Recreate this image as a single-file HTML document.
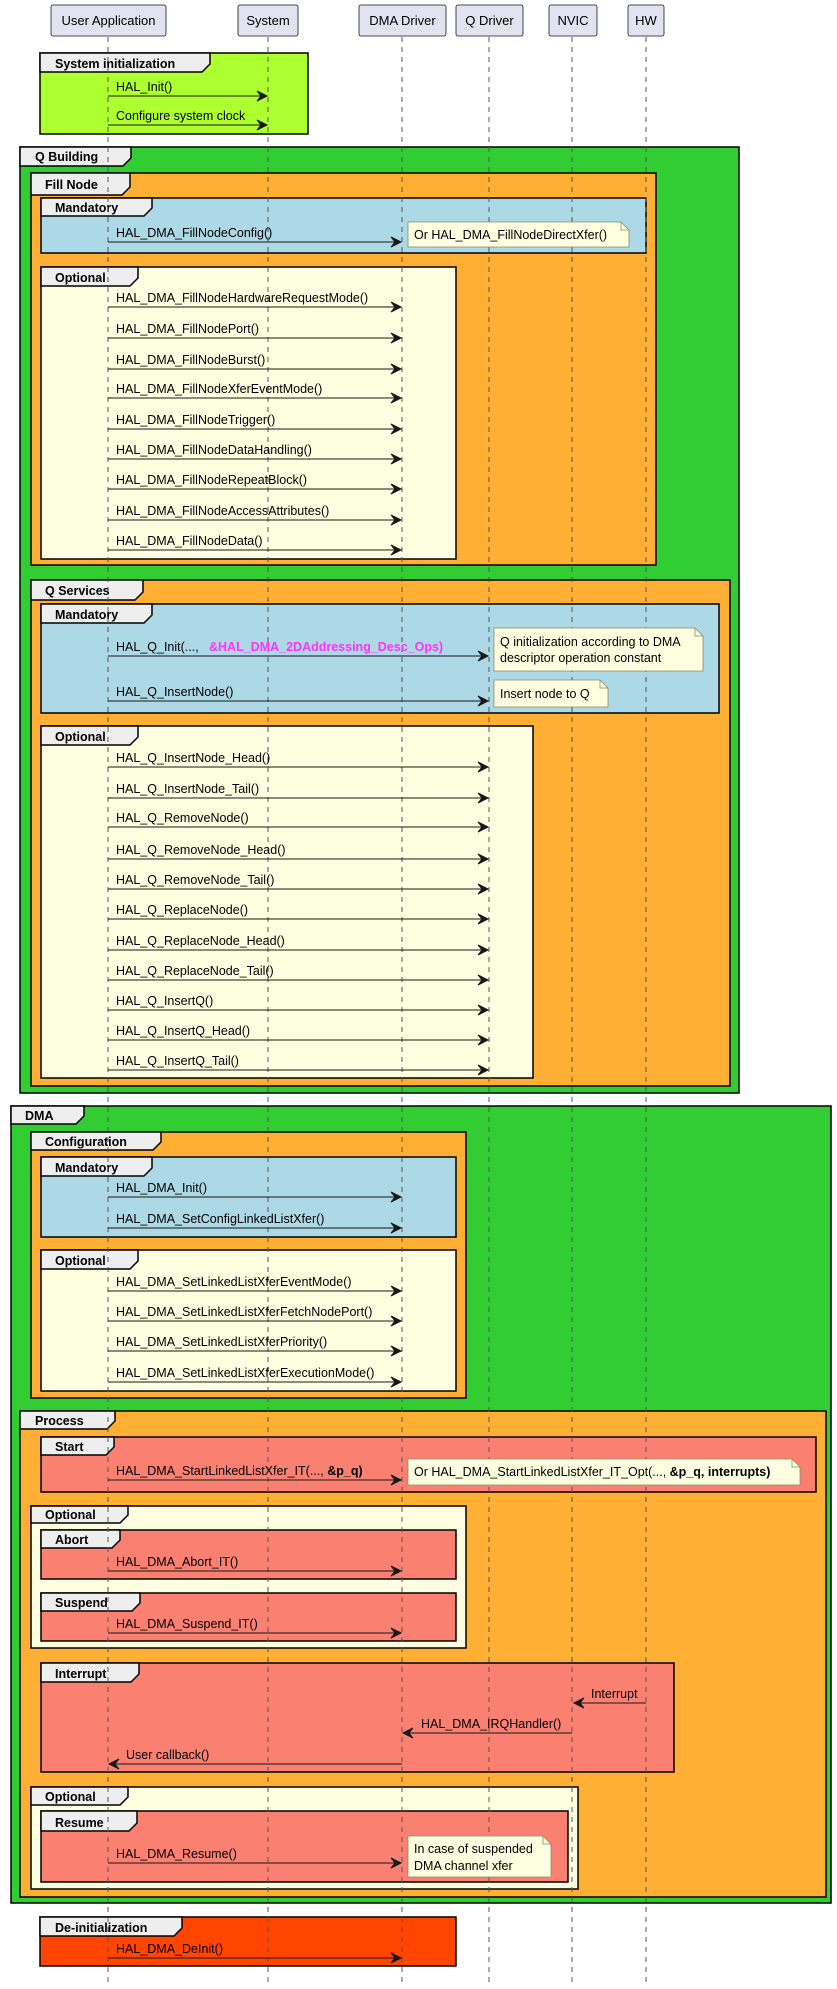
<!DOCTYPE html>
<html><head><meta charset="utf-8"><style>
html,body{margin:0;padding:0;background:#fff}
svg{display:block}
text{font-family:"Liberation Sans",Arial,sans-serif;font-size:12.5px;fill:#000}
.b{font-weight:bold}
</style></head><body>
<svg width="837" height="1989" viewBox="0 0 837 1989" xmlns="http://www.w3.org/2000/svg">
<g stroke="#000" stroke-width="1.5">
<rect x="40" y="53" width="268" height="81" fill="#ADFF2F"/>
<path d="M40 53H210V64L202 72H40Z" fill="#EEEEEE"/>
<rect x="20" y="147" width="719" height="946" fill="#32CD32"/>
<path d="M20 147H131V158L123 166H20Z" fill="#EEEEEE"/>
<rect x="31" y="173" width="625" height="392" fill="#FFAF33"/>
<path d="M31 173H130V187L122 195H31Z" fill="#EEEEEE"/>
<rect x="41" y="198" width="605" height="55" fill="#ADD8E6"/>
<path d="M41 198H152V208L144 216H41Z" fill="#EEEEEE"/>
<rect x="41" y="267" width="415" height="292" fill="#FEFEE0"/>
<path d="M41 267H138V278L130 286H41Z" fill="#EEEEEE"/>
<rect x="31" y="580" width="699" height="506" fill="#FFAF33"/>
<path d="M31 580H143V592L135 600H31Z" fill="#EEEEEE"/>
<rect x="41" y="604" width="678" height="109" fill="#ADD8E6"/>
<path d="M41 604H152V615L144 623H41Z" fill="#EEEEEE"/>
<rect x="41" y="726" width="492" height="352" fill="#FEFEE0"/>
<path d="M41 726H138V737L130 745H41Z" fill="#EEEEEE"/>
<rect x="11" y="1106" width="820" height="797" fill="#32CD32"/>
<path d="M11 1106H84V1116L76 1124H11Z" fill="#EEEEEE"/>
<rect x="31" y="1132" width="435" height="266" fill="#FFAF33"/>
<path d="M31 1132H161V1142L153 1150H31Z" fill="#EEEEEE"/>
<rect x="41" y="1157" width="415" height="80" fill="#ADD8E6"/>
<path d="M41 1157H152V1168L144 1176H41Z" fill="#EEEEEE"/>
<rect x="41" y="1250" width="415" height="141" fill="#FEFEE0"/>
<path d="M41 1250H138V1261L130 1269H41Z" fill="#EEEEEE"/>
<rect x="20" y="1411" width="806" height="486" fill="#FFAF33"/>
<path d="M20 1411H115V1421L107 1429H20Z" fill="#EEEEEE"/>
<rect x="41" y="1437" width="775" height="55" fill="#FA8072"/>
<path d="M41 1437H114V1447L106 1455H41Z" fill="#EEEEEE"/>
<rect x="31" y="1506" width="435" height="142" fill="#FEFEE0"/>
<path d="M31 1506H128V1515L120 1523H31Z" fill="#EEEEEE"/>
<rect x="41" y="1530" width="415" height="49" fill="#FA8072"/>
<path d="M41 1530H120V1540L112 1548H41Z" fill="#EEEEEE"/>
<rect x="41" y="1593" width="415" height="48" fill="#FA8072"/>
<path d="M41 1593H140V1603L132 1611H41Z" fill="#EEEEEE"/>
<rect x="41" y="1663" width="633" height="109" fill="#FA8072"/>
<path d="M41 1663H139V1674L131 1682H41Z" fill="#EEEEEE"/>
<rect x="31" y="1787" width="547" height="102" fill="#FEFEE0"/>
<path d="M31 1787H128V1797L120 1805H31Z" fill="#EEEEEE"/>
<rect x="41" y="1811" width="527" height="71" fill="#FA8072"/>
<path d="M41 1811H137V1823L129 1831H41Z" fill="#EEEEEE"/>
<rect x="40" y="1917" width="416" height="49" fill="#FF4500"/>
<path d="M40 1917H182V1928L174 1936H40Z" fill="#EEEEEE"/>
</g>
<g>
<text class="b" x="55" y="68">System initialization</text>
<text class="b" x="35" y="161">Q Building</text>
<text class="b" x="45" y="189">Fill Node</text>
<text class="b" x="55" y="212">Mandatory</text>
<text class="b" x="55" y="282">Optional</text>
<text class="b" x="45" y="595">Q Services</text>
<text class="b" x="55" y="619">Mandatory</text>
<text class="b" x="55" y="741">Optional</text>
<text class="b" x="25" y="1120">DMA</text>
<text class="b" x="45" y="1146">Configuration</text>
<text class="b" x="55" y="1172">Mandatory</text>
<text class="b" x="55" y="1265">Optional</text>
<text class="b" x="35" y="1425">Process</text>
<text class="b" x="55" y="1451">Start</text>
<text class="b" x="45" y="1519">Optional</text>
<text class="b" x="55" y="1544">Abort</text>
<text class="b" x="55" y="1607">Suspend</text>
<text class="b" x="55" y="1678">Interrupt</text>
<text class="b" x="45" y="1801">Optional</text>
<text class="b" x="55" y="1827">Resume</text>
<text class="b" x="55" y="1932">De-initialization</text>
</g>
<g stroke="#555" stroke-width="1" stroke-dasharray="5,5">
<line x1="108" y1="37" x2="108" y2="1984"/>
<line x1="268" y1="37" x2="268" y2="1984"/>
<line x1="402" y1="37" x2="402" y2="1984"/>
<line x1="489" y1="37" x2="489" y2="1984"/>
<line x1="572" y1="37" x2="572" y2="1984"/>
<line x1="646" y1="37" x2="646" y2="1984"/>
</g>
<g fill="#E2E2F0" stroke="#181818" stroke-width="0.8">
<rect x="51" y="5" width="115" height="31" rx="2"/>
<rect x="238" y="5" width="60" height="31" rx="2"/>
<rect x="359" y="5" width="87" height="31" rx="2"/>
<rect x="456" y="5" width="67" height="31" rx="2"/>
<rect x="549" y="5" width="48" height="31" rx="2"/>
<rect x="628" y="5" width="36" height="31" rx="2"/>
</g>
<g>
<text x="108.5" y="25" text-anchor="middle" style="font-size:13px">User Application</text>
<text x="268" y="25" text-anchor="middle" style="font-size:13px">System</text>
<text x="402.5" y="25" text-anchor="middle" style="font-size:13px">DMA Driver</text>
<text x="489.5" y="25" text-anchor="middle" style="font-size:13px">Q Driver</text>
<text x="573" y="25" text-anchor="middle" style="font-size:13px">NVIC</text>
<text x="646" y="25" text-anchor="middle" style="font-size:13px">HW</text>
</g>
<g stroke="#181818" stroke-width="1" fill="#181818">
<line x1="108" y1="96" x2="266" y2="96"/><path d="M267 96L257 91L261 96L257 101Z"/>
<line x1="108" y1="125" x2="266" y2="125"/><path d="M267 125L257 120L261 125L257 130Z"/>
</g>
<g stroke="#181818" stroke-width="1" fill="#181818">
<line x1="108" y1="242" x2="400" y2="242"/><path d="M401 242L391 237L395 242L391 247Z"/>
<line x1="108" y1="307" x2="400" y2="307"/><path d="M401 307L391 302L395 307L391 312Z"/>
<line x1="108" y1="338" x2="400" y2="338"/><path d="M401 338L391 333L395 338L391 343Z"/>
<line x1="108" y1="369" x2="400" y2="369"/><path d="M401 369L391 364L395 369L391 374Z"/>
<line x1="108" y1="398" x2="400" y2="398"/><path d="M401 398L391 393L395 398L391 403Z"/>
<line x1="108" y1="429" x2="400" y2="429"/><path d="M401 429L391 424L395 429L391 434Z"/>
<line x1="108" y1="459" x2="400" y2="459"/><path d="M401 459L391 454L395 459L391 464Z"/>
<line x1="108" y1="489" x2="400" y2="489"/><path d="M401 489L391 484L395 489L391 494Z"/>
<line x1="108" y1="520" x2="400" y2="520"/><path d="M401 520L391 515L395 520L391 525Z"/>
<line x1="108" y1="550" x2="400" y2="550"/><path d="M401 550L391 545L395 550L391 555Z"/>
<line x1="108" y1="1197" x2="400" y2="1197"/><path d="M401 1197L391 1192L395 1197L391 1202Z"/>
<line x1="108" y1="1228" x2="400" y2="1228"/><path d="M401 1228L391 1223L395 1228L391 1233Z"/>
<line x1="108" y1="1291" x2="400" y2="1291"/><path d="M401 1291L391 1286L395 1291L391 1296Z"/>
<line x1="108" y1="1321" x2="400" y2="1321"/><path d="M401 1321L391 1316L395 1321L391 1326Z"/>
<line x1="108" y1="1351" x2="400" y2="1351"/><path d="M401 1351L391 1346L395 1351L391 1356Z"/>
<line x1="108" y1="1382" x2="400" y2="1382"/><path d="M401 1382L391 1377L395 1382L391 1387Z"/>
<line x1="108" y1="1480" x2="400" y2="1480"/><path d="M401 1480L391 1475L395 1480L391 1485Z"/>
<line x1="108" y1="1571" x2="400" y2="1571"/><path d="M401 1571L391 1566L395 1571L391 1576Z"/>
<line x1="108" y1="1633" x2="400" y2="1633"/><path d="M401 1633L391 1628L395 1633L391 1638Z"/>
<line x1="108" y1="1863" x2="400" y2="1863"/><path d="M401 1863L391 1858L395 1863L391 1868Z"/>
<line x1="108" y1="1958" x2="400" y2="1958"/><path d="M401 1958L391 1953L395 1958L391 1963Z"/>
</g>
<g stroke="#181818" stroke-width="1" fill="#181818">
<line x1="108" y1="656" x2="487" y2="656"/><path d="M488 656L478 651L482 656L478 661Z"/>
<line x1="108" y1="701" x2="487" y2="701"/><path d="M488 701L478 696L482 701L478 706Z"/>
<line x1="108" y1="767" x2="487" y2="767"/><path d="M488 767L478 762L482 767L478 772Z"/>
<line x1="108" y1="798" x2="487" y2="798"/><path d="M488 798L478 793L482 798L478 803Z"/>
<line x1="108" y1="827" x2="487" y2="827"/><path d="M488 827L478 822L482 827L478 832Z"/>
<line x1="108" y1="859" x2="487" y2="859"/><path d="M488 859L478 854L482 859L478 864Z"/>
<line x1="108" y1="889" x2="487" y2="889"/><path d="M488 889L478 884L482 889L478 894Z"/>
<line x1="108" y1="919" x2="487" y2="919"/><path d="M488 919L478 914L482 919L478 924Z"/>
<line x1="108" y1="950" x2="487" y2="950"/><path d="M488 950L478 945L482 950L478 955Z"/>
<line x1="108" y1="980" x2="487" y2="980"/><path d="M488 980L478 975L482 980L478 985Z"/>
<line x1="108" y1="1010" x2="487" y2="1010"/><path d="M488 1010L478 1005L482 1010L478 1015Z"/>
<line x1="108" y1="1040" x2="487" y2="1040"/><path d="M488 1040L478 1035L482 1040L478 1045Z"/>
<line x1="108" y1="1070" x2="487" y2="1070"/><path d="M488 1070L478 1065L482 1070L478 1075Z"/>
</g>
<g stroke="#181818" stroke-width="1" fill="#181818">
<line x1="646" y1="1703" x2="575" y2="1703"/><path d="M574 1703L584 1698L580 1703L584 1708Z"/>
<line x1="572" y1="1733" x2="404" y2="1733"/><path d="M403 1733L413 1728L409 1733L413 1738Z"/>
<line x1="402" y1="1764" x2="110" y2="1764"/><path d="M109 1764L119 1759L115 1764L119 1769Z"/>
</g>
<text x="116" y="91">HAL_Init()</text>
<text x="116" y="120">Configure system clock</text>
<text x="116" y="237">HAL_DMA_FillNodeConfig()</text>
<text x="116" y="302">HAL_DMA_FillNodeHardwareRequestMode()</text>
<text x="116" y="333">HAL_DMA_FillNodePort()</text>
<text x="116" y="364">HAL_DMA_FillNodeBurst()</text>
<text x="116" y="393">HAL_DMA_FillNodeXferEventMode()</text>
<text x="116" y="424">HAL_DMA_FillNodeTrigger()</text>
<text x="116" y="454">HAL_DMA_FillNodeDataHandling()</text>
<text x="116" y="484">HAL_DMA_FillNodeRepeatBlock()</text>
<text x="116" y="515">HAL_DMA_FillNodeAccessAttributes()</text>
<text x="116" y="545">HAL_DMA_FillNodeData()</text>
<text x="116" y="651">HAL_Q_Init(...,</text>
<text x="209" y="651" style="font-weight:bold;fill:#FF33FF">&amp;HAL_DMA_2DAddressing_Desc_Ops)</text>
<text x="116" y="696">HAL_Q_InsertNode()</text>
<text x="116" y="762">HAL_Q_InsertNode_Head()</text>
<text x="116" y="793">HAL_Q_InsertNode_Tail()</text>
<text x="116" y="822">HAL_Q_RemoveNode()</text>
<text x="116" y="854">HAL_Q_RemoveNode_Head()</text>
<text x="116" y="884">HAL_Q_RemoveNode_Tail()</text>
<text x="116" y="914">HAL_Q_ReplaceNode()</text>
<text x="116" y="945">HAL_Q_ReplaceNode_Head()</text>
<text x="116" y="975">HAL_Q_ReplaceNode_Tail()</text>
<text x="116" y="1005">HAL_Q_InsertQ()</text>
<text x="116" y="1035">HAL_Q_InsertQ_Head()</text>
<text x="116" y="1065">HAL_Q_InsertQ_Tail()</text>
<text x="116" y="1192">HAL_DMA_Init()</text>
<text x="116" y="1223">HAL_DMA_SetConfigLinkedListXfer()</text>
<text x="116" y="1286">HAL_DMA_SetLinkedListXferEventMode()</text>
<text x="116" y="1316">HAL_DMA_SetLinkedListXferFetchNodePort()</text>
<text x="116" y="1346">HAL_DMA_SetLinkedListXferPriority()</text>
<text x="116" y="1377">HAL_DMA_SetLinkedListXferExecutionMode()</text>
<text x="116" y="1475">HAL_DMA_StartLinkedListXfer_IT(..., <tspan class="b">&amp;p_q)</tspan></text>
<text x="116" y="1566">HAL_DMA_Abort_IT()</text>
<text x="116" y="1628">HAL_DMA_Suspend_IT()</text>
<text x="591" y="1698">Interrupt</text>
<text x="421" y="1728">HAL_DMA_IRQHandler()</text>
<text x="126" y="1759">User callback()</text>
<text x="116" y="1858">HAL_DMA_Resume()</text>
<text x="116" y="1953">HAL_DMA_DeInit()</text>
<g fill="#FEFEE0" stroke="#8a8a6a" stroke-width="0.8">
<path d="M408 222H621L629 230V247H408Z"/><path d="M621 222V230H629" fill="none"/>
<path d="M494 628H695L703 636V671H494Z"/><path d="M695 628V636H703" fill="none"/>
<path d="M494 680H600L608 688V707H494Z"/><path d="M600 680V688H608" fill="none"/>
<path d="M408 1459H792L800 1467V1485H408Z"/><path d="M792 1459V1467H800" fill="none"/>
<path d="M408 1836H543L551 1844V1877H408Z"/><path d="M543 1836V1844H551" fill="none"/>
</g>
<text x="414" y="239">Or HAL_DMA_FillNodeDirectXfer()</text>
<text x="500" y="646">Q initialization according to DMA</text>
<text x="500" y="662">descriptor operation constant</text>
<text x="500" y="698">Insert node to Q</text>
<text x="414" y="1476">Or HAL_DMA_StartLinkedListXfer_IT_Opt(..., <tspan class="b">&amp;p_q, interrupts)</tspan></text>
<text x="414" y="1853">In case of suspended</text>
<text x="414" y="1870">DMA channel xfer</text>
</svg>
</body></html>
